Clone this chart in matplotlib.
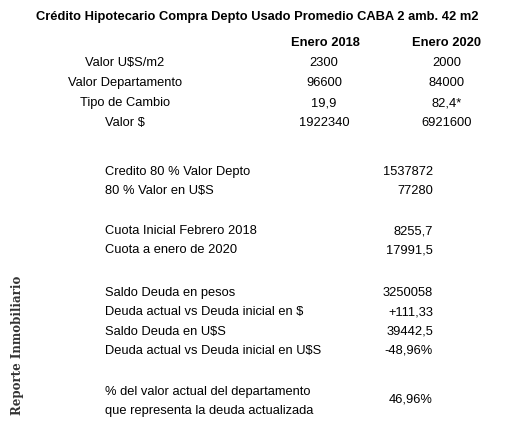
import matplotlib.pyplot as plt

W, H = 514, 430

title = "Crédito Hipotecario Compra Depto Usado Promedio CABA 2 amb. 42 m2"
headers = ["Enero 2018", "Enero 2020"]
top_labels = ["Valor U$S/m2", "Valor Departamento", "Tipo de Cambio", "Valor $"]
top_2018 = ["2300", "96600", "19,9", "1922340"]
top_2020 = ["2000", "84000", "82,4*", "6921600"]

groups = [
    (["Credito 80 % Valor Depto", "80 % Valor en U$S"], ["1537872", "77280"]),
    (["Cuota Inicial Febrero 2018", "Cuota a enero de 2020"], ["8255,7", "17991,5"]),
    (["Saldo Deuda en pesos", "Deuda actual vs Deuda inicial en $",
      "Saldo Deuda en U$S", "Deuda actual vs Deuda inicial en U$S"],
     ["3250058", "+111,33", "39442,5", "-48,96%"]),
]
last_label = ["% del valor actual del departamento", "que representa la deuda actualizada"]
last_value = "46,96%"

fig = plt.figure(figsize=(W / 100, H / 100), dpi=100)
ax = fig.add_axes([0, 0, 1, 1])
ax.set_xlim(0, W)
ax.set_ylim(H, 0)
ax.axis("off")

FONT = "Liberation Sans"
FS = 9.3

def t(x, y, s, ha="left", bold=False):
    ax.text(x, y, s, ha=ha, va="center", fontsize=FS, family=FONT,
            fontweight="bold" if bold else "normal", color="black")

t(257, 17, title, ha="center", bold=True)
t(325, 43, headers[0], ha="center", bold=True)
t(447, 43, headers[1], ha="center", bold=True)
for i, lab in enumerate(top_labels):
    y = 63 + 20 * i
    t(125, y, lab, ha="center")
    t(324, y, top_2018[i], ha="center")
    t(447, y, top_2020[i], ha="center")

starts = [172, 231, 293]
for (labs, vals), y0 in zip(groups, starts):
    for j, (lab, val) in enumerate(zip(labs, vals)):
        y = y0 + 19.3 * j
        t(105, y, lab)
        t(433, y, val, ha="right")

t(105, 392, last_label[0])
t(105, 411, last_label[1])
t(433, 399, last_value, ha="right")

ax.text(18, 345, "Reporte Inmobiliario", rotation=90, ha="center", va="center",
        fontsize=8.5, family="DejaVu Serif", fontweight="bold", color="#333333")

fig.savefig("out.png", dpi=100)
